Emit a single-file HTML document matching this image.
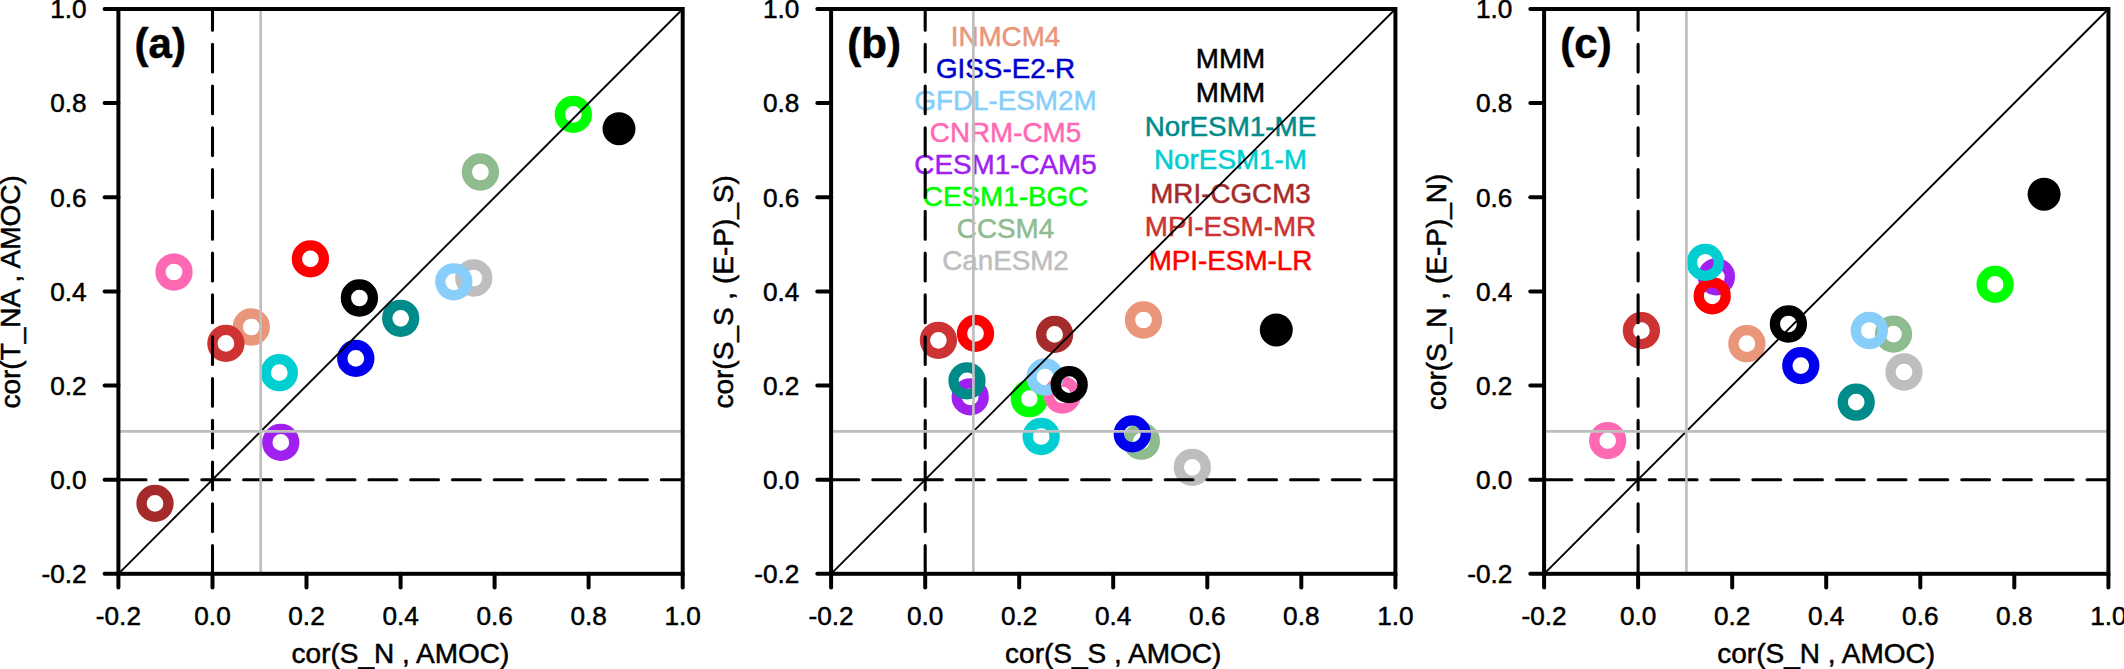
<!DOCTYPE html>
<html lang="en"><head><meta charset="utf-8"><title>Correlation scatter plots</title>
<style>html,body{margin:0;padding:0;background:#fff}body{width:2124px;height:669px;overflow:hidden}svg{display:block}text{font-family:"Liberation Sans",Arial,Helvetica,sans-serif;stroke-width:0.5px;fill:#000;stroke:#000}.t{font-size:26.2px}.ax{font-size:28.0px}.lg{font-size:27.8px}.pl{font-size:42px;font-weight:bold}</style></head><body>
<svg width="2124" height="669" viewBox="0 0 2124 669">
<rect width="2124" height="669" fill="#fff"/>
<g>
<circle cx="473.8" cy="278.0" r="13.50" fill="none" stroke="#bebebe" stroke-width="10.3"/>
<circle cx="480.4" cy="172.0" r="13.50" fill="none" stroke="#8fbc8f" stroke-width="10.3"/>
<circle cx="573.3" cy="114.4" r="13.50" fill="none" stroke="#00ff00" stroke-width="10.3"/>
<circle cx="280.8" cy="442.4" r="13.50" fill="none" stroke="#a020f0" stroke-width="10.3"/>
<circle cx="174.0" cy="272.0" r="13.50" fill="none" stroke="#ff69b4" stroke-width="10.3"/>
<circle cx="453.8" cy="281.8" r="13.50" fill="none" stroke="#87cefa" stroke-width="10.3"/>
<circle cx="355.8" cy="358.4" r="13.50" fill="none" stroke="#0000ee" stroke-width="10.3"/>
<circle cx="251.3" cy="327.0" r="13.50" fill="none" stroke="#e9967a" stroke-width="10.3"/>
<circle cx="310.4" cy="258.9" r="13.50" fill="none" stroke="#ff0000" stroke-width="10.3"/>
<circle cx="225.9" cy="343.4" r="13.50" fill="none" stroke="#cd3333" stroke-width="10.3"/>
<circle cx="155.0" cy="503.4" r="13.50" fill="none" stroke="#a52a2a" stroke-width="10.3"/>
<circle cx="279.3" cy="372.7" r="13.50" fill="none" stroke="#00ced1" stroke-width="10.3"/>
<circle cx="400.7" cy="318.3" r="13.50" fill="none" stroke="#008b8b" stroke-width="10.3"/>
<circle cx="359.4" cy="298.0" r="13.50" fill="none" stroke="#000000" stroke-width="10.3"/>
<circle cx="619.0" cy="128.7" r="16.5" fill="#000"/>
<line x1="118.4" y1="573.8" x2="682.7" y2="9.0" stroke="#000" stroke-width="1.9"/>
<line x1="118.25" y1="479.7" x2="682.7" y2="479.7" stroke="#000" stroke-width="3.1" stroke-linecap="round" stroke-dasharray="27.8 13.98"/>
<line x1="212.5" y1="573.4" x2="212.5" y2="9.0" stroke="#000" stroke-width="3.1" stroke-linecap="round" stroke-dasharray="27.8 13.98"/>
<line x1="260.7" y1="9.0" x2="260.7" y2="573.8" stroke="#bebebe" stroke-width="2.7"/>
<line x1="118.4" y1="431.4" x2="682.7" y2="431.4" stroke="#bebebe" stroke-width="2.7"/>
<rect x="118.4" y="9.0" width="564.3" height="564.8" fill="none" stroke="#000" stroke-width="4.0"/>
<line x1="118.4" y1="573.8" x2="118.4" y2="587.6" stroke="#000" stroke-width="4.0" stroke-linecap="round"/>
<line x1="118.4" y1="573.8" x2="104.6" y2="573.8" stroke="#000" stroke-width="4.0" stroke-linecap="round"/>
<text class="t" x="118.4" y="624.7" text-anchor="middle">-0.2</text>
<text class="t" x="86.7" y="583.0" text-anchor="end">-0.2</text>
<line x1="212.5" y1="573.8" x2="212.5" y2="587.6" stroke="#000" stroke-width="4.0" stroke-linecap="round"/>
<line x1="118.4" y1="479.7" x2="104.6" y2="479.7" stroke="#000" stroke-width="4.0" stroke-linecap="round"/>
<text class="t" x="212.5" y="624.7" text-anchor="middle">0.0</text>
<text class="t" x="86.7" y="488.9" text-anchor="end">0.0</text>
<line x1="306.5" y1="573.8" x2="306.5" y2="587.6" stroke="#000" stroke-width="4.0" stroke-linecap="round"/>
<line x1="118.4" y1="385.5" x2="104.6" y2="385.5" stroke="#000" stroke-width="4.0" stroke-linecap="round"/>
<text class="t" x="306.5" y="624.7" text-anchor="middle">0.2</text>
<text class="t" x="86.7" y="394.7" text-anchor="end">0.2</text>
<line x1="400.6" y1="573.8" x2="400.6" y2="587.6" stroke="#000" stroke-width="4.0" stroke-linecap="round"/>
<line x1="118.4" y1="291.4" x2="104.6" y2="291.4" stroke="#000" stroke-width="4.0" stroke-linecap="round"/>
<text class="t" x="400.6" y="624.7" text-anchor="middle">0.4</text>
<text class="t" x="86.7" y="300.6" text-anchor="end">0.4</text>
<line x1="494.6" y1="573.8" x2="494.6" y2="587.6" stroke="#000" stroke-width="4.0" stroke-linecap="round"/>
<line x1="118.4" y1="197.3" x2="104.6" y2="197.3" stroke="#000" stroke-width="4.0" stroke-linecap="round"/>
<text class="t" x="494.6" y="624.7" text-anchor="middle">0.6</text>
<text class="t" x="86.7" y="206.5" text-anchor="end">0.6</text>
<line x1="588.6" y1="573.8" x2="588.6" y2="587.6" stroke="#000" stroke-width="4.0" stroke-linecap="round"/>
<line x1="118.4" y1="103.1" x2="104.6" y2="103.1" stroke="#000" stroke-width="4.0" stroke-linecap="round"/>
<text class="t" x="588.6" y="624.7" text-anchor="middle">0.8</text>
<text class="t" x="86.7" y="112.3" text-anchor="end">0.8</text>
<line x1="682.7" y1="573.8" x2="682.7" y2="587.6" stroke="#000" stroke-width="4.0" stroke-linecap="round"/>
<line x1="118.4" y1="9.0" x2="104.6" y2="9.0" stroke="#000" stroke-width="4.0" stroke-linecap="round"/>
<text class="t" x="682.7" y="624.7" text-anchor="middle">1.0</text>
<text class="t" x="86.7" y="18.2" text-anchor="end">1.0</text>
<text class="ax" x="400.5" y="662.7" text-anchor="middle">cor(S_N , AMOC)</text>
<text class="ax" transform="translate(19.8 291.9) rotate(-90)" text-anchor="middle">cor(T_NA , AMOC)</text>
<text class="pl" x="134.6" y="58.3">(a)</text>
</g>
<g>
<text class="lg" x="1005.5" y="45.9" text-anchor="middle" style="fill:#e9967a;stroke:#e9967a">INMCM4</text>
<text class="lg" x="1005.5" y="77.9" text-anchor="middle" style="fill:#0000cd;stroke:#0000cd">GISS-E2-R</text>
<text class="lg" x="1005.5" y="110.0" text-anchor="middle" style="fill:#87cefa;stroke:#87cefa">GFDL-ESM2M</text>
<text class="lg" x="1005.5" y="142.0" text-anchor="middle" style="fill:#ff69b4;stroke:#ff69b4">CNRM-CM5</text>
<text class="lg" x="1005.5" y="174.1" text-anchor="middle" style="fill:#a020f0;stroke:#a020f0">CESM1-CAM5</text>
<text class="lg" x="1005.5" y="206.1" text-anchor="middle" style="fill:#00ff00;stroke:#00ff00">CESM1-BGC</text>
<text class="lg" x="1005.5" y="238.1" text-anchor="middle" style="fill:#8fbc8f;stroke:#8fbc8f">CCSM4</text>
<text class="lg" x="1005.5" y="270.2" text-anchor="middle" style="fill:#bebebe;stroke:#bebebe">CanESM2</text>
<text class="lg" x="1230.5" y="68.4" text-anchor="middle" style="fill:#000000;stroke:#000000">MMM</text>
<text class="lg" x="1230.5" y="102.0" text-anchor="middle" style="fill:#000000;stroke:#000000">MMM</text>
<text class="lg" x="1230.5" y="135.6" text-anchor="middle" style="fill:#008b8b;stroke:#008b8b">NorESM1-ME</text>
<text class="lg" x="1230.5" y="169.2" text-anchor="middle" style="fill:#00ced1;stroke:#00ced1">NorESM1-M</text>
<text class="lg" x="1230.5" y="202.8" text-anchor="middle" style="fill:#a52a2a;stroke:#a52a2a">MRI-CGCM3</text>
<text class="lg" x="1230.5" y="236.4" text-anchor="middle" style="fill:#cd3333;stroke:#cd3333">MPI-ESM-MR</text>
<text class="lg" x="1230.5" y="270.0" text-anchor="middle" style="fill:#ff0000;stroke:#ff0000">MPI-ESM-LR</text>
<circle cx="1192.3" cy="467.3" r="13.50" fill="none" stroke="#bebebe" stroke-width="10.3"/>
<circle cx="1141.4" cy="441.2" r="13.50" fill="none" stroke="#8fbc8f" stroke-width="10.3"/>
<circle cx="1029.3" cy="398.7" r="13.50" fill="none" stroke="#00ff00" stroke-width="10.3"/>
<circle cx="970.2" cy="396.9" r="13.50" fill="none" stroke="#a020f0" stroke-width="10.3"/>
<circle cx="1062.3" cy="395.0" r="13.50" fill="none" stroke="#ff69b4" stroke-width="10.3"/>
<circle cx="1045.0" cy="377.0" r="13.50" fill="none" stroke="#87cefa" stroke-width="10.3"/>
<circle cx="1132.3" cy="433.9" r="13.50" fill="none" stroke="#0000ee" stroke-width="10.3"/>
<circle cx="1143.5" cy="320.0" r="13.50" fill="none" stroke="#e9967a" stroke-width="10.3"/>
<circle cx="975.5" cy="333.4" r="13.50" fill="none" stroke="#ff0000" stroke-width="10.3"/>
<circle cx="938.4" cy="340.3" r="13.50" fill="none" stroke="#cd3333" stroke-width="10.3"/>
<circle cx="1054.6" cy="334.4" r="13.50" fill="none" stroke="#a52a2a" stroke-width="10.3"/>
<circle cx="1041.2" cy="436.5" r="13.50" fill="none" stroke="#00ced1" stroke-width="10.3"/>
<circle cx="967.0" cy="380.8" r="13.50" fill="none" stroke="#008b8b" stroke-width="10.3"/>
<circle cx="1069.2" cy="384.6" r="13.50" fill="none" stroke="#000000" stroke-width="10.3"/>
<circle cx="1276.3" cy="329.9" r="16.5" fill="#000"/>
<line x1="831.1" y1="573.8" x2="1395.4" y2="9.0" stroke="#000" stroke-width="1.9"/>
<line x1="830.95" y1="479.7" x2="1395.4" y2="479.7" stroke="#000" stroke-width="3.1" stroke-linecap="round" stroke-dasharray="27.8 13.98"/>
<line x1="925.2" y1="573.4" x2="925.2" y2="9.0" stroke="#000" stroke-width="3.1" stroke-linecap="round" stroke-dasharray="27.8 13.98"/>
<line x1="973.4" y1="9.0" x2="973.4" y2="573.8" stroke="#bebebe" stroke-width="2.7"/>
<line x1="831.1" y1="431.4" x2="1395.4" y2="431.4" stroke="#bebebe" stroke-width="2.7"/>
<rect x="831.1" y="9.0" width="564.3" height="564.8" fill="none" stroke="#000" stroke-width="4.0"/>
<line x1="831.1" y1="573.8" x2="831.1" y2="587.6" stroke="#000" stroke-width="4.0" stroke-linecap="round"/>
<line x1="831.1" y1="573.8" x2="817.3" y2="573.8" stroke="#000" stroke-width="4.0" stroke-linecap="round"/>
<text class="t" x="831.1" y="624.7" text-anchor="middle">-0.2</text>
<text class="t" x="799.4" y="583.0" text-anchor="end">-0.2</text>
<line x1="925.2" y1="573.8" x2="925.2" y2="587.6" stroke="#000" stroke-width="4.0" stroke-linecap="round"/>
<line x1="831.1" y1="479.7" x2="817.3" y2="479.7" stroke="#000" stroke-width="4.0" stroke-linecap="round"/>
<text class="t" x="925.2" y="624.7" text-anchor="middle">0.0</text>
<text class="t" x="799.4" y="488.9" text-anchor="end">0.0</text>
<line x1="1019.2" y1="573.8" x2="1019.2" y2="587.6" stroke="#000" stroke-width="4.0" stroke-linecap="round"/>
<line x1="831.1" y1="385.5" x2="817.3" y2="385.5" stroke="#000" stroke-width="4.0" stroke-linecap="round"/>
<text class="t" x="1019.2" y="624.7" text-anchor="middle">0.2</text>
<text class="t" x="799.4" y="394.7" text-anchor="end">0.2</text>
<line x1="1113.2" y1="573.8" x2="1113.2" y2="587.6" stroke="#000" stroke-width="4.0" stroke-linecap="round"/>
<line x1="831.1" y1="291.4" x2="817.3" y2="291.4" stroke="#000" stroke-width="4.0" stroke-linecap="round"/>
<text class="t" x="1113.2" y="624.7" text-anchor="middle">0.4</text>
<text class="t" x="799.4" y="300.6" text-anchor="end">0.4</text>
<line x1="1207.3" y1="573.8" x2="1207.3" y2="587.6" stroke="#000" stroke-width="4.0" stroke-linecap="round"/>
<line x1="831.1" y1="197.3" x2="817.3" y2="197.3" stroke="#000" stroke-width="4.0" stroke-linecap="round"/>
<text class="t" x="1207.3" y="624.7" text-anchor="middle">0.6</text>
<text class="t" x="799.4" y="206.5" text-anchor="end">0.6</text>
<line x1="1301.3" y1="573.8" x2="1301.3" y2="587.6" stroke="#000" stroke-width="4.0" stroke-linecap="round"/>
<line x1="831.1" y1="103.1" x2="817.3" y2="103.1" stroke="#000" stroke-width="4.0" stroke-linecap="round"/>
<text class="t" x="1301.3" y="624.7" text-anchor="middle">0.8</text>
<text class="t" x="799.4" y="112.3" text-anchor="end">0.8</text>
<line x1="1395.4" y1="573.8" x2="1395.4" y2="587.6" stroke="#000" stroke-width="4.0" stroke-linecap="round"/>
<line x1="831.1" y1="9.0" x2="817.3" y2="9.0" stroke="#000" stroke-width="4.0" stroke-linecap="round"/>
<text class="t" x="1395.4" y="624.7" text-anchor="middle">1.0</text>
<text class="t" x="799.4" y="18.2" text-anchor="end">1.0</text>
<text class="ax" x="1113.2" y="662.7" text-anchor="middle">cor(S_S , AMOC)</text>
<text class="ax" transform="translate(732.5 291.9) rotate(-90)" text-anchor="middle">cor(S_S , (E-P)_S)</text>
<text class="pl" x="847.3" y="58.3">(b)</text>
</g>
<g>
<circle cx="1904.0" cy="372.0" r="13.50" fill="none" stroke="#bebebe" stroke-width="10.3"/>
<circle cx="1893.5" cy="334.1" r="13.50" fill="none" stroke="#8fbc8f" stroke-width="10.3"/>
<circle cx="1995.1" cy="284.4" r="13.50" fill="none" stroke="#00ff00" stroke-width="10.3"/>
<circle cx="1716.4" cy="276.8" r="13.50" fill="none" stroke="#a020f0" stroke-width="10.3"/>
<circle cx="1607.7" cy="440.6" r="13.50" fill="none" stroke="#ff69b4" stroke-width="10.3"/>
<circle cx="1869.3" cy="330.5" r="13.50" fill="none" stroke="#87cefa" stroke-width="10.3"/>
<circle cx="1800.8" cy="365.6" r="13.50" fill="none" stroke="#0000ee" stroke-width="10.3"/>
<circle cx="1746.9" cy="343.7" r="13.50" fill="none" stroke="#e9967a" stroke-width="10.3"/>
<circle cx="1712.2" cy="295.9" r="13.50" fill="none" stroke="#ff0000" stroke-width="10.3"/>
<circle cx="1641.4" cy="330.6" r="13.50" fill="none" stroke="#cd3333" stroke-width="10.3"/>
<circle cx="1705.3" cy="262.4" r="13.50" fill="none" stroke="#00ced1" stroke-width="10.3"/>
<circle cx="1856.2" cy="402.2" r="13.50" fill="none" stroke="#008b8b" stroke-width="10.3"/>
<circle cx="1788.4" cy="324.0" r="13.50" fill="none" stroke="#000000" stroke-width="10.3"/>
<circle cx="2044.1" cy="194.2" r="16.5" fill="#000"/>
<line x1="1544.1" y1="573.8" x2="2108.4" y2="9.0" stroke="#000" stroke-width="1.9"/>
<line x1="1543.95" y1="479.7" x2="2108.4" y2="479.7" stroke="#000" stroke-width="3.1" stroke-linecap="round" stroke-dasharray="27.8 13.98"/>
<line x1="1638.1" y1="573.4" x2="1638.1" y2="9.0" stroke="#000" stroke-width="3.1" stroke-linecap="round" stroke-dasharray="27.8 13.98"/>
<line x1="1686.4" y1="9.0" x2="1686.4" y2="573.8" stroke="#bebebe" stroke-width="2.7"/>
<line x1="1544.1" y1="431.4" x2="2108.4" y2="431.4" stroke="#bebebe" stroke-width="2.7"/>
<rect x="1544.1" y="9.0" width="564.3" height="564.8" fill="none" stroke="#000" stroke-width="4.0"/>
<line x1="1544.1" y1="573.8" x2="1544.1" y2="587.6" stroke="#000" stroke-width="4.0" stroke-linecap="round"/>
<line x1="1544.1" y1="573.8" x2="1530.3" y2="573.8" stroke="#000" stroke-width="4.0" stroke-linecap="round"/>
<text class="t" x="1544.1" y="624.7" text-anchor="middle">-0.2</text>
<text class="t" x="1512.4" y="583.0" text-anchor="end">-0.2</text>
<line x1="1638.1" y1="573.8" x2="1638.1" y2="587.6" stroke="#000" stroke-width="4.0" stroke-linecap="round"/>
<line x1="1544.1" y1="479.7" x2="1530.3" y2="479.7" stroke="#000" stroke-width="4.0" stroke-linecap="round"/>
<text class="t" x="1638.1" y="624.7" text-anchor="middle">0.0</text>
<text class="t" x="1512.4" y="488.9" text-anchor="end">0.0</text>
<line x1="1732.2" y1="573.8" x2="1732.2" y2="587.6" stroke="#000" stroke-width="4.0" stroke-linecap="round"/>
<line x1="1544.1" y1="385.5" x2="1530.3" y2="385.5" stroke="#000" stroke-width="4.0" stroke-linecap="round"/>
<text class="t" x="1732.2" y="624.7" text-anchor="middle">0.2</text>
<text class="t" x="1512.4" y="394.7" text-anchor="end">0.2</text>
<line x1="1826.2" y1="573.8" x2="1826.2" y2="587.6" stroke="#000" stroke-width="4.0" stroke-linecap="round"/>
<line x1="1544.1" y1="291.4" x2="1530.3" y2="291.4" stroke="#000" stroke-width="4.0" stroke-linecap="round"/>
<text class="t" x="1826.2" y="624.7" text-anchor="middle">0.4</text>
<text class="t" x="1512.4" y="300.6" text-anchor="end">0.4</text>
<line x1="1920.3" y1="573.8" x2="1920.3" y2="587.6" stroke="#000" stroke-width="4.0" stroke-linecap="round"/>
<line x1="1544.1" y1="197.3" x2="1530.3" y2="197.3" stroke="#000" stroke-width="4.0" stroke-linecap="round"/>
<text class="t" x="1920.3" y="624.7" text-anchor="middle">0.6</text>
<text class="t" x="1512.4" y="206.5" text-anchor="end">0.6</text>
<line x1="2014.3" y1="573.8" x2="2014.3" y2="587.6" stroke="#000" stroke-width="4.0" stroke-linecap="round"/>
<line x1="1544.1" y1="103.1" x2="1530.3" y2="103.1" stroke="#000" stroke-width="4.0" stroke-linecap="round"/>
<text class="t" x="2014.3" y="624.7" text-anchor="middle">0.8</text>
<text class="t" x="1512.4" y="112.3" text-anchor="end">0.8</text>
<line x1="2108.4" y1="573.8" x2="2108.4" y2="587.6" stroke="#000" stroke-width="4.0" stroke-linecap="round"/>
<line x1="1544.1" y1="9.0" x2="1530.3" y2="9.0" stroke="#000" stroke-width="4.0" stroke-linecap="round"/>
<text class="t" x="2108.4" y="624.7" text-anchor="middle">1.0</text>
<text class="t" x="1512.4" y="18.2" text-anchor="end">1.0</text>
<text class="ax" x="1826.2" y="662.7" text-anchor="middle">cor(S_N , AMOC)</text>
<text class="ax" transform="translate(1445.5 291.9) rotate(-90)" text-anchor="middle">cor(S_N , (E-P)_N)</text>
<text class="pl" x="1560.3" y="58.3">(c)</text>
</g>
</svg></body></html>
